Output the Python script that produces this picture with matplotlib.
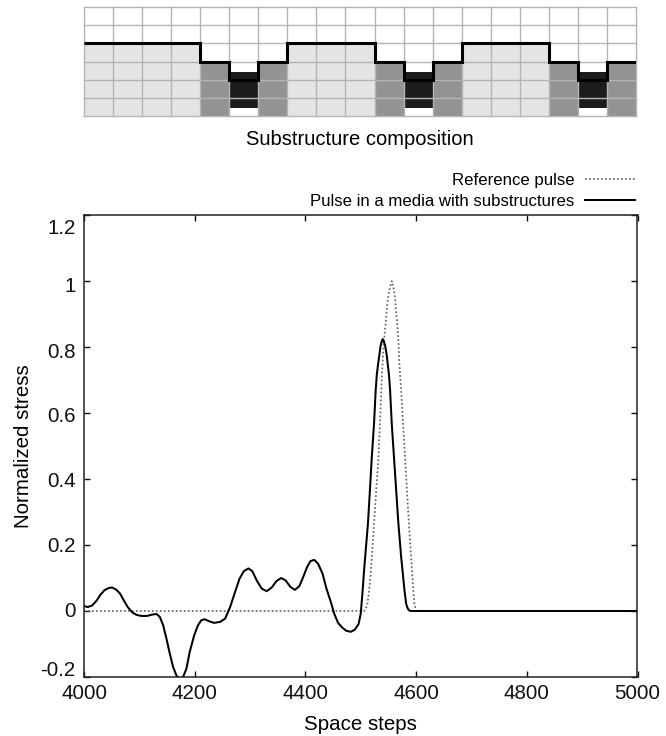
import matplotlib

matplotlib.use("Agg")

import matplotlib.pyplot as plt
from matplotlib.transforms import ScaledTranslation
import numpy as np

WIDTH = 666
HEIGHT = 736

plt.rcParams["font.family"] = ["Liberation Sans", "DejaVu Sans"]

# substructure columns, one entry per grid cell
column_heights = [4, 4, 4, 4, 3, 2, 3, 4, 4, 4, 3, 2, 3, 4, 4, 4, 3, 2, 3]
column_colors = {4: "#e4e4e4", 3: "#939393", 2: "#1c1c1c"}
grid_rows = 6
core_bottom = 0.45
core_top = 2.42

# pulse in the media with substructures
pulse_x = [
    4000, 4007, 4015, 4023, 4030, 4037, 4045, 4051, 4058, 4065, 4072, 4079, 4087, 4095,
    4104, 4114, 4123, 4131, 4137, 4143, 4149, 4155, 4161, 4167, 4173, 4179, 4185, 4191,
    4199, 4206, 4212, 4218, 4226, 4235, 4246, 4255, 4264, 4273, 4281, 4289, 4297, 4304,
    4312, 4321, 4330, 4339, 4348, 4356, 4364, 4373, 4381, 4389, 4396, 4403, 4409, 4416,
    4423, 4431, 4438, 4446, 4452, 4459, 4467, 4474, 4482, 4489, 4496, 4500, 4503, 4506,
    4509, 4513, 4516, 4520, 4524, 4527, 4529, 4531, 4533.5, 4536, 4538, 4539.5, 4541, 4544,
    4547, 4549, 4551, 4553, 4556, 4560, 4564, 4568, 4573, 4579, 4582, 4585, 4588, 4592,
    4600, 5000,
]
pulse_y = [
    0.015, 0.012, 0.017, 0.032, 0.05, 0.063, 0.07, 0.071, 0.065, 0.053, 0.032, 0.012, -0.004, -0.012,
    -0.015, -0.015, -0.011, -0.009, -0.018, -0.043, -0.084, -0.129, -0.17, -0.195, -0.208, -0.2, -0.175, -0.124,
    -0.074, -0.043, -0.028, -0.025, -0.031, -0.036, -0.033, -0.023, 0.012, 0.058, 0.098, 0.121, 0.129, 0.121,
    0.093, 0.068, 0.06, 0.071, 0.091, 0.1, 0.093, 0.073, 0.064, 0.075, 0.103, 0.133, 0.151, 0.155,
    0.143, 0.113, 0.068, 0.027, -0.008, -0.036, -0.051, -0.06, -0.063, -0.057, -0.04, -0.008, 0.053, 0.123,
    0.184, 0.265, 0.35, 0.467, 0.568, 0.669, 0.716, 0.744, 0.775, 0.805, 0.817, 0.824, 0.82, 0.805,
    0.775, 0.744, 0.716, 0.669, 0.568, 0.467, 0.366, 0.265, 0.164, 0.063, 0.022, 0.007, 0.001, 0.0,
    0.0, 0.0,
]

# reference pulse
reference_x = [
    4000, 4506, 4509, 4512, 4515, 4518, 4524, 4528, 4532, 4535, 4538.3, 4539.5, 4542, 4545.6,
    4546.8, 4548.6, 4551.6, 4556, 4560, 4562.4, 4563.6, 4565.4, 4568, 4569.6, 4571, 4573, 4576,
    4580, 4584, 4587, 4593, 4595, 4597, 4599, 4601, 5000,
]
reference_y = [
    0.0, 0.0, 0.006, 0.022, 0.06, 0.113, 0.265, 0.365, 0.467, 0.58, 0.716, 0.755, 0.82, 0.881,
    0.911, 0.941, 0.972, 1.0, 0.972, 0.941, 0.911, 0.881, 0.82, 0.755, 0.716, 0.669, 0.58,
    0.467, 0.35, 0.265, 0.113, 0.06, 0.022, 0.006, 0.0, 0.0,
]

x_ticks = [4000, 4200, 4400, 4600, 4800, 5000]
y_ticks = [-0.2, 0, 0.2, 0.4, 0.6, 0.8, 1, 1.2]
y_tick_labels = ["-0.2", "0", "0.2", "0.4", "0.6", "0.8", "1", "1.2"]


def _axes_rect(left: float, top: float, right: float, bottom: float):
    return [left / WIDTH, 1 - bottom / HEIGHT, (right - left) / WIDTH, (bottom - top) / HEIGHT]


fig = plt.figure(figsize=(WIDTH / 100.0, HEIGHT / 100.0), dpi=100)

# substructure sketch
sketch = fig.add_axes(_axes_rect(84, 7, 636, 116))
cols = np.arange(len(column_heights))
for col, height in zip(cols, column_heights):
    if height == 2:
        sketch.bar(col, core_top - core_bottom, width=1, bottom=core_bottom, align="edge",
                   color=column_colors[height], linewidth=0)
    else:
        sketch.bar(col, height, width=1, align="edge", color=column_colors[height], linewidth=0)
sketch.set_xlim(0, len(column_heights))
sketch.set_ylim(0, grid_rows)
sketch.set_xticks(np.arange(len(column_heights) + 1))
sketch.set_yticks(np.arange(grid_rows + 1))
sketch.grid(True, color="#b4b4b4", linewidth=1.0, clip_on=False)
sketch.set_axisbelow(False)
sketch.tick_params(length=0, labelbottom=False, labelleft=False)
for spine in sketch.spines.values():
    spine.set_visible(False)
sketch.stairs(column_heights, np.arange(len(column_heights) + 1), baseline=None,
              color="black", linewidth=2.2, zorder=5)
sketch.set_xlabel("Substructure composition", fontsize=14.5, labelpad=10)

# pulse chart
ax = fig.add_axes(_axes_rect(84, 215, 637.5, 677))
ax.plot(reference_x, reference_y, color="#666666", linewidth=1.25, linestyle=(0, (1, 1.3)),
        label="Reference pulse")
ax.plot(pulse_x, pulse_y, color="black", linewidth=1.45, label="Pulse in a media with substructures")
ax.set_xlim(4000, 5000)
ax.set_ylim(-0.2, 1.2)
ax.set_xticks(x_ticks)
ax.set_yticks(y_ticks)
ax.set_yticklabels(y_tick_labels)
ax.tick_params(direction="in", top=True, right=True, length=4.5, width=1.0,
               labelsize=14.8, pad=6, colors="#111111")
ax.tick_params(axis="x", pad=5)
for spine in ax.spines.values():
    spine.set_linewidth(1.1)
    spine.set_color("#222222")

# y tick labels do not sit exactly on their ticks in the original (shift in px, down is negative)
label_shift = {"-0.2": 8, "0": 1.5, "0.2": 0, "0.4": -0.5, "0.6": -1.5, "0.8": -3, "1": -4, "1.2": -12}
for label, text in zip(ax.get_yticklabels(), y_tick_labels):
    shift = label_shift[text] * 0.72
    label.set_transform(label.get_transform() + ScaledTranslation(0, shift / 72, fig.dpi_scale_trans))

ax.set_xlabel("Space steps", fontsize=14.8, labelpad=9)
ax.set_ylabel("Normalized stress", fontsize=14.8, labelpad=5)

ax.legend(loc="lower right", bbox_to_anchor=(1.002, 1.005), frameon=False, fontsize=12.1,
          markerfirst=False, handlelength=3.0, handletextpad=0.6, labelspacing=0.36,
          borderaxespad=0, borderpad=0.2)

fig.savefig("out.png", dpi=100, facecolor="white")
plt.close(fig)
